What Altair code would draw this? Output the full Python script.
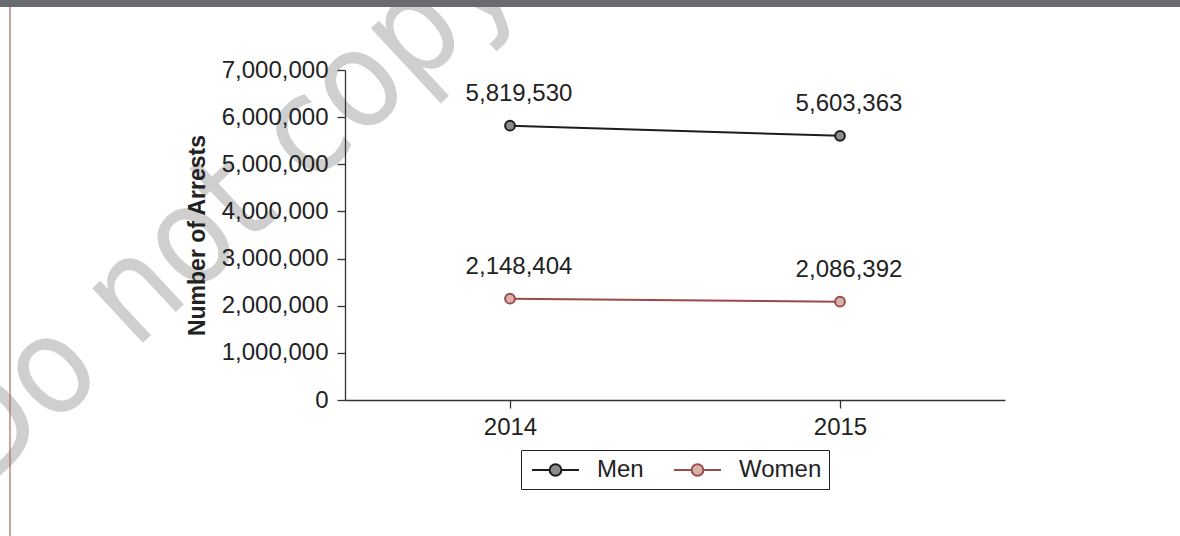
import altair as alt
import pandas as pd

# ---- data ----
years = ["2014", "2015"]
series_names = ["Men", "Women"]
men_values = [5819530, 5603363]
women_values = [2148404, 2086392]
y_tick_values = [0, 1000000, 2000000, 3000000, 4000000, 5000000, 6000000, 7000000]
y_title = "Number of Arrests"
watermark_text = ["Do not copy"]

line_colors = ["#1c1c1c", "#9b4a46"]
fill_colors = ["#8b8c8f", "#d8b0ad"]

rows = []
for name, vals in zip(series_names, [men_values, women_values]):
    for yr, v in zip(years, vals):
        rows.append({"year": yr, "series": name, "value": v})
df = pd.DataFrame(rows)

FONT = "Liberation Sans"
TXT = "#222222"
FS = 24

stroke_scale = alt.Scale(domain=series_names, range=line_colors)
fill_scale = alt.Scale(domain=series_names, range=fill_colors)

# legend symbol: line with an open-centred circle (custom path, units = sqrt(size)/2)
sym_path = ("M-0.766,0H0.734M1.734,0H3.234"
            "M1.734,0A0.5,0.5 0 1 1 0.734,0A0.5,0.5 0 1 1 1.734,0Z")

legend = alt.Legend(
    title=None, orient="none", legendX=176, legendY=380, direction="horizontal",
    symbolType=sym_path, symbolSize=552, symbolStrokeWidth=2,
    labelFont=FONT, labelFontSize=FS, labelColor=TXT, labelOffset=43,
    columnPadding=26, padding=7, strokeColor="#222222", fillColor="white",
    cornerRadius=0,
)

x_enc = alt.X(
    "year:O",
    scale=alt.Scale(type="point", padding=0.5),
    axis=alt.Axis(title=None, labelAngle=0, labelFont=FONT, labelFontSize=FS,
                  labelColor=TXT, tickSize=8, tickColor="#333333", domainColor="#333333",
                  domainWidth=1.3, tickWidth=1.3, labelPadding=7, grid=False, zindex=1),
)
y_enc = alt.Y(
    "value:Q",
    scale=alt.Scale(domain=[0, 7000000], nice=False, zero=True),
    axis=alt.Axis(values=y_tick_values, format=",.0f", title=y_title, grid=False,
                  labelFont=FONT, labelFontSize=FS, labelColor=TXT, labelPadding=9,
                  tickSize=8, tickColor="#333333", domainColor="#333333",
                  domainWidth=1.3, tickWidth=1.3, zindex=1,
                  titleFont=FONT, titleFontSize=23, titleFontWeight="bold",
                  titleColor=TXT, titlePadding=12),
)

base = alt.Chart(df)

lines = base.mark_line(strokeWidth=2).encode(
    x=x_enc, y=y_enc,
    stroke=alt.Stroke("series:N", scale=stroke_scale, legend=legend),
    detail="series:N",
)

points = base.mark_circle(size=95, strokeWidth=2, opacity=1).encode(
    x=x_enc, y=y_enc,
    stroke=alt.Stroke("series:N", scale=stroke_scale, legend=legend),
    fill=alt.Fill("series:N", scale=fill_scale, legend=legend),
)

labels = base.mark_text(font=FONT, fontSize=FS, color=TXT, baseline="bottom",
                        align="center", dy=-20, dx=9).encode(
    x=x_enc, y=y_enc, text=alt.Text("value:Q", format=",.0f"),
)

wm = alt.Chart(pd.DataFrame({"t": watermark_text})).mark_text(
    font="'Liberation Sans Narrow', 'DejaVu Sans Condensed', sans-serif",
    fontSize=136, angle=317, color="#cfcfcf",
    align="center", baseline="middle",
).encode(x=alt.value(-120), y=alt.value(140), text="t:N")

deco = pd.DataFrame({"k": [1]})
top_bar = alt.Chart(deco).mark_rect(color="#6a6b70").encode(
    x=alt.value(-345), x2=alt.value(835), y=alt.value(-70), y2=alt.value(-63)
)
red_line = alt.Chart(deco).mark_rule(color="#b3625c", strokeWidth=1.2).encode(
    x=alt.value(-335), y=alt.value(-63), y2=alt.value(466)
)

chart = alt.layer(wm, top_bar, red_line, lines, points, labels).properties(
    width=660, height=330,
    autosize=alt.AutoSizeParams(type="none"),
    padding={"left": 345, "top": 70, "right": 175, "bottom": 136},
    background="white",
).configure_view(stroke=None)

chart.save("out.html", embed_options={"renderer": "svg", "actions": False})
